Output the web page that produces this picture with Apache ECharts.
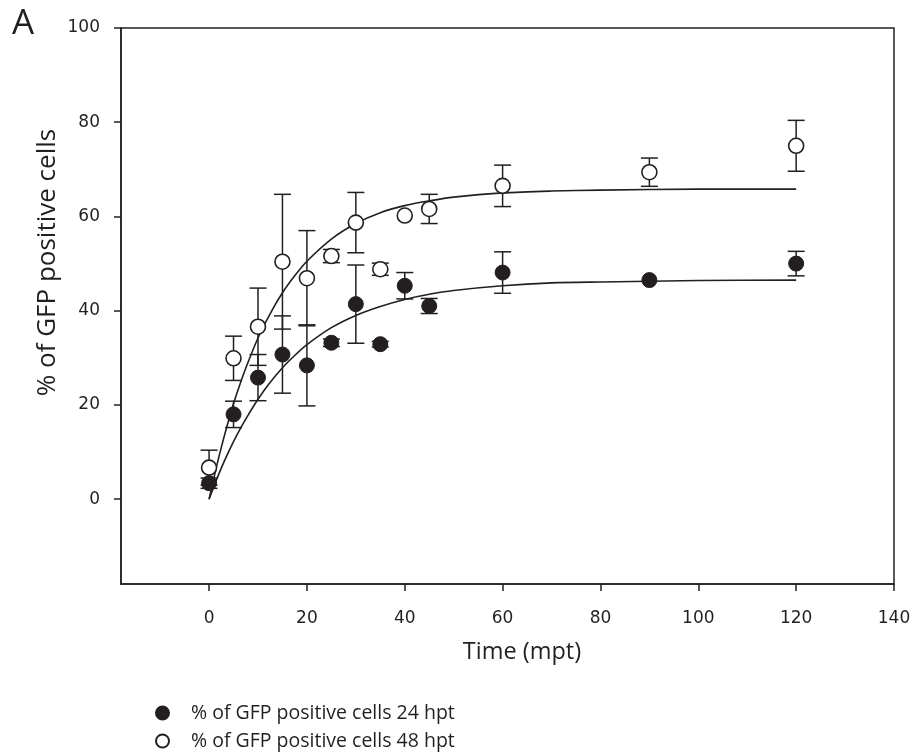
<!DOCTYPE html>
<html>
<head>
<meta charset="utf-8">
<script src="https://cdn.jsdelivr.net/npm/echarts@6/dist/echarts.min.js"></script>
<style>
  html, body { margin: 0; padding: 0; background: #fff; }
  #chart { width: 915px; height: 753px; }
</style>
</head>
<body>
<div id="chart"></div>
<script>
// Sampling times (minutes post treatment)
const times = [0, 5, 10, 15, 20, 25, 30, 35, 40, 45, 60, 90, 120];

// % GFP positive cells, 24 hpt (mean and error)
const mean24 = [3.4, 18.0, 25.8, 30.7, 28.4, 33.2, 41.4, 32.9, 45.3, 41.0, 48.1, 46.5, 50.0];
const err24  = [1.1, 2.8, 4.9, 8.2, 8.6, 0.8, 8.3, 0.6, 2.8, 1.6, 4.4, 0, 2.6];

// % GFP positive cells, 48 hpt (mean and error)
const mean48 = [6.7, 29.9, 36.6, 50.4, 46.9, 51.6, 58.7, 48.8, 60.2, 61.6, 66.5, 69.4, 75.0];
const err48  = [3.7, 4.7, 8.2, 14.3, 10.1, 1.4, 6.4, 1.3, 0, 3.1, 4.4, 3.0, 5.4];

// Fitted rise-to-plateau curves
const fitTimes = [0, 1.25, 2.5, 3.75, 5, 6.25, 7.5, 10, 12.5, 15, 17.5, 20, 25, 30, 35, 40, 45, 50, 60, 70, 80, 100, 120];
const fit24 = [0, 3.4, 6.6, 9.5, 12.2, 14.7, 17.0, 21.2, 24.8, 27.9, 30.5, 32.8, 36.4, 39.0, 40.9, 42.4, 43.5, 44.3, 45.3, 45.9, 46.1, 46.4, 46.5];
const fit48 = [0, 5.7, 11.0, 15.8, 20.3, 24.2, 27.8, 34.2, 39.4, 43.8, 47.4, 50.5, 55.2, 58.5, 60.8, 62.3, 63.3, 64.1, 65.0, 65.4, 65.6, 65.8, 65.8];

// Axis ticks
const xTicks = [0, 20, 40, 60, 80, 100, 120, 140];
const yTicks = [0, 20, 40, 60, 80, 100];

const name24 = '% of GFP positive cells 24 hpt';
const name48 = '% of GFP positive cells 48 hpt';

const ink = '#231f20';
const tickFont = 'DejaVu Sans';
const textFont = 'Open Sans';

function zip(a, b) { return a.map((v, i) => [v, b[i]]); }
function zip3(a, b, c) { return a.map((v, i) => [v, b[i], c[i]]); }

function errorBar(params, api) {
  const x = api.value(0), m = api.value(1), e = api.value(2);
  if (!e) return null;
  const top = api.coord([x, m + e]);
  const bot = api.coord([x, m - e]);
  const half = 8.5;
  const st = { stroke: ink, lineWidth: 1.5 };
  return {
    type: 'group',
    children: [
      { type: 'line', shape: { x1: top[0], y1: top[1], x2: bot[0], y2: bot[1] }, style: st },
      { type: 'line', shape: { x1: top[0] - half, y1: top[1], x2: top[0] + half, y2: top[1] }, style: st },
      { type: 'line', shape: { x1: bot[0] - half, y1: bot[1], x2: bot[0] + half, y2: bot[1] }, style: st }
    ]
  };
}

const chart = echarts.init(document.getElementById('chart'), null, { renderer: 'canvas' });

const axisLine = { onZero: false, lineStyle: { color: ink, width: 1.5 } };
const legendText = { fontFamily: textFont, fontSize: 19.5, color: ink, padding: [0, 0, 0, 17] };

chart.setOption({
  animation: false,
  backgroundColor: '#fff',
  grid: {
    left: 121, right: 21, top: 28, bottom: 169,
    show: true, borderColor: ink, borderWidth: 1.5,
    containLabel: false
  },
  xAxis: {
    type: 'value', min: -18, max: 140,
    axisLine: axisLine,
    axisTick: { show: true, customValues: xTicks, length: 7, lineStyle: { color: ink, width: 1.5 } },
    axisLabel: { customValues: xTicks, margin: 26, fontFamily: tickFont, fontSize: 17, color: ink },
    splitLine: { show: false }
  },
  yAxis: {
    type: 'value', min: -18, max: 100,
    axisLine: axisLine,
    axisTick: { show: true, customValues: yTicks, length: 7, lineStyle: { color: ink, width: 1.5 } },
    axisLabel: { customValues: yTicks, margin: 21, fontFamily: tickFont, fontSize: 17, color: ink },
    splitLine: { show: false }
  },
  legend: [
    { data: [name24], left: 155, top: 703, itemWidth: 13, itemHeight: 13, padding: 0, textStyle: legendText },
    { data: [name48], left: 155, top: 731, itemWidth: 13, itemHeight: 13, padding: 0, textStyle: legendText }
  ],
  graphic: [
    { type: 'text', left: 12, top: 7, style: { text: 'A', font: '35px "Open Sans"', fill: ink } },
    { type: 'text', x: 522, y: 652, style: { text: 'Time (mpt)', font: '23.5px "Open Sans"', fill: ink, textAlign: 'center', textVerticalAlign: 'middle' } },
    { type: 'text', x: 48, y: 262.5, rotation: Math.PI / 2, style: { text: '% of GFP positive cells', font: '26px "Open Sans"', fill: ink, textAlign: 'center', textVerticalAlign: 'middle' } }
  ],
  series: [
    {
      name: 'fit 48', type: 'line', data: zip(fitTimes, fit48),
      smooth: 0.3, showSymbol: false, z: 2,
      lineStyle: { color: ink, width: 1.6 }
    },
    {
      name: 'fit 24', type: 'line', data: zip(fitTimes, fit24),
      smooth: 0.3, showSymbol: false, z: 2,
      lineStyle: { color: ink, width: 1.6 }
    },
    { name: 'err 48', type: 'custom', renderItem: errorBar, data: zip3(times, mean48, err48), z: 3, clip: false },
    { name: 'err 24', type: 'custom', renderItem: errorBar, data: zip3(times, mean24, err24), z: 3, clip: false },
    {
      name: name48, type: 'scatter', data: zip(times, mean48), symbol: 'circle', symbolSize: 15, z: 4,
      itemStyle: { color: '#fff', borderColor: ink, borderWidth: 1.6, opacity: 1 }
    },
    {
      name: name24, type: 'scatter', data: zip(times, mean24), symbol: 'circle', symbolSize: 15, z: 5,
      itemStyle: { color: ink, borderColor: ink, borderWidth: 1, opacity: 1 }
    }
  ]
});
</script>
</body>
</html>
